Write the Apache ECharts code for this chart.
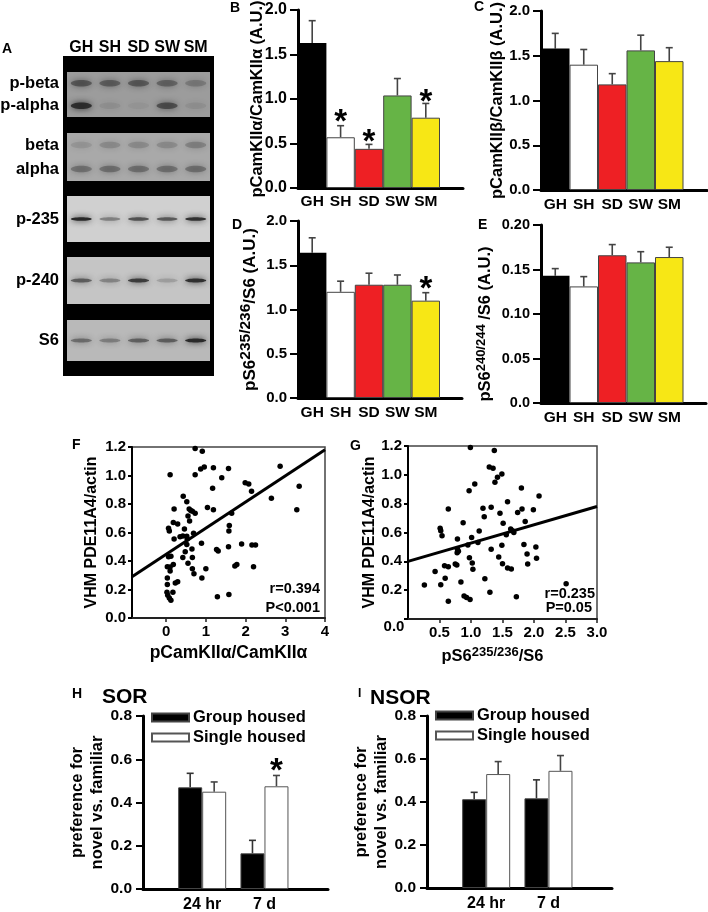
<!DOCTYPE html>
<html><head><meta charset="utf-8">
<style>html,body{margin:0;padding:0;background:#fff}#c{width:708px;height:912px}</style>
<script src="https://cdn.jsdelivr.net/npm/echarts@6/dist/echarts.min.js"></script>
</head><body><div id="c"></div>
<script>
// ---- data ----
const groups = ['GH','SH','SD','SW','SM'];
const groupColors = ['#000000','#ffffff','#ee2024','#66b446','#f7e715'];
const bMeans = [1.63,0.57,0.44,1.04,0.79];
const bTops  = [1.88,0.70,0.49,1.23,0.95];
const bStars = [[1.5,0.80],[2.5,0.58],[4.5,1.03]];
const cMeans = [1.58,1.40,1.18,1.56,1.44];
const cTops  = [1.75,1.57,1.30,1.73,1.59];
const dMeans = [1.64,1.20,1.28,1.28,1.10];
const dTops  = [1.81,1.32,1.41,1.39,1.19];
const dStars = [[4.5,1.295]];
const eMeans = [0.143,0.131,0.166,0.158,0.164];
const eTops  = [0.151,0.142,0.178,0.170,0.175];
const fPoints = [[.73,1.19],[.91,1.17],[.10,1.005],[.73,1.005],[.87,1.045],[.96,1.06],[1.19,1.055],[1.57,1.05],[1.40,.985],[1.17,.91],[1.99,.95],[2.08,.94],[2.15,.89],[2.87,1.065],[3.35,.925],[2.65,.84],[3.29,.76],[.43,.855],[.52,.815],[.2,.765],[.58,.765],[.62,.755],[.66,.75],[.73,.735],[1.04,.775],[1.19,.76],[1.65,.735],[.55,.715],[.59,.68],[.18,.67],[.29,.66],[1.59,.65],[1.58,.61],[.06,.63],[.08,.61],[.46,.625],[.2,.555],[.35,.57],[.42,.575],[.52,.573],[.53,.555],[.69,.595],[.52,.515],[.89,.525],[.65,.485],[.48,.465],[1.27,.48],[1.31,.47],[1.57,.5],[1.9,.52],[2.16,.512],[2.25,.512],[.42,.425],[.66,.425],[.06,.43],[.12,.433],[.55,.385],[.66,.345],[.70,.31],[1.0,.345],[.9,.28],[1.78,.375],[1.73,.365],[2.2,.36],[.03,.36],[.1,.358],[.18,.375],[.1,.33],[.03,.28],[.03,.235],[.23,.245],[.29,.255],[.17,.18],[.02,.18],[.04,.16],[.08,.14],[.12,.125],[1.29,.15],[1.58,.165]];
const fLine = [[-0.86,0.29],[4,1.18]];
const gPoints = [[.99,1.19],[1.37,1.168],[1.29,1.055],[1.35,1.045],[1.49,1.005],[1.42,.983],[1.38,.948],[1.06,.936],[.97,.89],[1.80,.909],[2.08,.853],[1.58,.814],[.64,.763],[1.19,.768],[1.32,.775],[1.81,.763],[1.99,.758],[1.46,.733],[1.74,.738],[1.21,.71],[1.86,.677],[.875,.668],[1.51,.664],[1.63,.624],[1.66,.613],[.51,.629],[.52,.613],[1.13,.61],[1.68,.6],[1.56,.585],[.54,.578],[1.01,.566],[.785,.555],[1.11,.53],[.95,.513],[1.49,.511],[1.84,.516],[2.03,.5],[1.32,.483],[.785,.483],[.80,.47],[.78,.46],[1.89,.451],[.975,.425],[1.44,.43],[2.04,.421],[1.02,.388],[1.5,.384],[1.90,.381],[.75,.381],[.775,.375],[.58,.37],[.64,.363],[1.58,.354],[1.64,.347],[1.03,.345],[.43,.33],[.59,.282],[1.22,.28],[.84,.257],[.52,.238],[.26,.236],[2.51,.245],[1.30,.185],[.89,.16],[.93,.15],[.985,.136],[.64,.123],[1.72,.155]];
const gLine = [[0,0.40],[3,0.78]];
const timeLabels = ['24 hr','7 d'];
const housing = ['Group housed','Single housed'];
const hGroup = [0.47,0.165];
const hGroupTops = [0.535,0.225];
const hSingle = [0.45,0.475];
const hSingleTops = [0.495,0.525];
const hStars = [[2.19,0.574]];
const iGroup = [0.413,0.417];
const iGroupTops = [0.445,0.503];
const iSingle = [0.53,0.545];
const iSingleTops = [0.588,0.616];
// blot band darkness per lane
const pBeta  = [.48,.42,.46,.38,.22];
const pAlpha = [.85,.08,.04,.55,.08];
const beta   = [.10,.16,.16,.16,.22];
const alpha  = [.32,.34,.34,.34,.34];
const p235   = [.95,.38,.65,.60,.88];
const p240   = [.55,.32,.78,.18,.88];
const s6     = [.42,.32,.50,.52,.92];

// ---- helpers ----
const FF = '"Liberation Sans", Arial, sans-serif';
const grid=[],xAxis=[],yAxis=[],series=[];
function errRender(offsetPx,color){
  return function(p,api){
    const x=api.coord([api.value(0),api.value(1)]);
    const t=api.coord([api.value(0),api.value(2)]);
    const cx=x[0]+offsetPx;
    const st={stroke:color,lineWidth:1.6};
    return {type:'group',children:[
      {type:'line',shape:{x1:cx,y1:x[1],x2:cx,y2:t[1]},style:st},
      {type:'line',shape:{x1:cx-3.5,y1:t[1],x2:cx+3.5,y2:t[1]},style:st}
    ]};
  };
}
function addErr(gi,xs,means,tops,offset,color){
  series.push({type:'custom',xAxisIndex:gi,yAxisIndex:gi,silent:true,z:1,
    renderItem:errRender(offset,color||'#444'),
    data:xs.map((x,i)=>[x,means[i],tops[i]]),encode:{x:0,y:[1,2]}});
}
function addStars(gi,stars,size){
  series.push({type:'scatter',xAxisIndex:gi,yAxisIndex:gi,symbolSize:1,silent:true,z:6,
    itemStyle:{color:'transparent',opacity:1},data:stars,
    label:{show:true,position:'inside',formatter:'*',color:'#000',opacity:1,fontFamily:FF,fontWeight:'bold',fontSize:size,offset:[0,size*0.2]}});
}
function valueY(o){
  return {type:'value',gridIndex:grid.length-1,min:0,max:o.max,interval:o.interval,
    name:o.name,nameLocation:'middle',nameGap:o.nameGap,nameRotate:90,nameMoveOverlap:false,
    nameTextStyle:Object.assign({color:'#000',fontFamily:FF,fontWeight:'bold',fontSize:o.nameFs||16.5},o.nameStyle||{}),
    axisLine:{show:true,onZero:false,lineStyle:{color:'#000',width:o.lineW||3}},
    axisTick:{show:true,length:o.tick||8,lineStyle:{color:'#000',width:2}},
    splitLine:{show:false},
    axisLabel:{color:'#000',fontFamily:FF,fontWeight:'bold',fontSize:o.fs||16,margin:o.margin||11,
      showMinLabel:true,showMaxLabel:true,
      formatter:o.fmt||(v=>v.toFixed(1))}};
}
function barPanel(o){
  const gi=grid.length;
  grid.push({left:o.l,top:o.t,width:o.w,height:o.h,outerBoundsMode:'none'});
  const xs=groups.map((_,i)=>i+0.5);
  xAxis.push({type:'value',gridIndex:gi,min:0,max:o.w/o.bar,
    axisLine:{show:true,onZero:false,lineStyle:{color:'#000',width:3}},
    axisTick:{show:false},splitLine:{show:false},
    axisLabel:{color:'#000',fontFamily:FF,fontWeight:'bold',fontSize:15.5,margin:o.lm,customValues:xs,
      formatter:v=>groups[Math.round(v-0.5)]||''}});
  yAxis.push(valueY(o));
  addErr(gi,xs,o.means,o.tops,0);
  series.push({type:'bar',xAxisIndex:gi,yAxisIndex:gi,barWidth:o.bar,silent:true,z:2,
    data:o.means.map((v,i)=>({value:[xs[i],v],itemStyle:{color:groupColors[i],borderColor:i?'#444':'#000',borderWidth:i?1:0}}))});
  if(o.stars) addStars(gi,o.stars,33);
}
function scatterPanel(o){
  const gi=grid.length;
  grid.push({left:o.l,top:o.t,width:o.w,height:o.h,outerBoundsMode:'none',show:true,borderColor:'#444',borderWidth:1.5,backgroundColor:'transparent'});
  xAxis.push({type:'value',gridIndex:gi,min:o.xmin,max:o.xmax,
    name:o.xname,nameLocation:'middle',nameGap:o.xgap,nameMoveOverlap:false,
    nameTextStyle:Object.assign({color:'#000',fontFamily:FF,fontWeight:'bold',fontSize:17.5},o.xstyle||{}),
    axisLine:{show:true,onZero:false,lineStyle:{color:'#222',width:2}},
    axisTick:{show:true,length:4,customValues:o.xticks,lineStyle:{color:'#222',width:1.5}},
    splitLine:{show:false},
    axisLabel:{color:'#000',fontFamily:FF,fontWeight:'bold',fontSize:15,margin:6,customValues:o.xticks,formatter:o.xfmt}});
  yAxis.push(valueY({max:1.2,interval:0.2,name:'VHM PDE11A4/actin',nameFs:16,nameGap:o.ygap,lineW:2,tick:4,fs:15,margin:6,fmt:o.yfmt}));
  series.push({type:'scatter',xAxisIndex:gi,yAxisIndex:gi,symbolSize:5.5,silent:true,itemStyle:{color:'#000',opacity:1},data:o.pts,z:3});
  series.push({type:'line',xAxisIndex:gi,yAxisIndex:gi,showSymbol:false,silent:true,lineStyle:{color:'#000',width:3},data:o.line,z:4});
}
function prefPanel(o){
  const gi=grid.length;
  grid.push({left:o.l,top:o.t,width:o.w,height:o.h,outerBoundsMode:'none'});
  const xs=[1,2];
  xAxis.push({type:'value',gridIndex:gi,min:o.xmin,max:o.xmax,
    axisLine:{show:true,onZero:false,lineStyle:{color:'#000',width:3}},axisTick:{show:false},splitLine:{show:false},
    axisLabel:{color:'#000',fontFamily:FF,fontWeight:'bold',fontSize:16,margin:8,customValues:xs,formatter:v=>timeLabels[v-1]||''}});
  yAxis.push(valueY({max:0.8,interval:0.2,name:'preference for\nnovel vs. familiar',nameGap:36,nameFs:16.5,
    nameStyle:{lineHeight:20},fs:15.5,margin:11,tick:7}));
  addErr(gi,xs,o.g,o.gt,-12,'#333');
  addErr(gi,xs,o.s,o.st,12,'#444');
  series.push({type:'bar',name:housing[0],xAxisIndex:gi,yAxisIndex:gi,barWidth:24,barGap:0,silent:true,z:2,
    itemStyle:{color:'#000',borderColor:'#444',borderWidth:1},data:xs.map((x,i)=>[x,o.g[i]])});
  series.push({type:'bar',name:housing[1],xAxisIndex:gi,yAxisIndex:gi,barWidth:24,barGap:0,silent:true,z:2,
    itemStyle:{color:'#fff',borderColor:'#555',borderWidth:1},data:xs.map((x,i)=>[x,o.s[i]])});
  if(o.stars) addStars(gi,o.stars,33);
}
function blotStrip(o){
  const gi=grid.length;
  grid.push({left:67,top:o.t,width:143,height:o.h,outerBoundsMode:'none',show:true,backgroundColor:o.bg,borderWidth:0});
  xAxis.push({type:'category',gridIndex:gi,data:groups,position:'top',axisLine:{show:false},axisTick:{show:false},
    axisLabel:o.top?{show:true,color:'#000',fontFamily:FF,fontWeight:'bold',fontSize:16,margin:16,interval:0}:{show:false}});
  yAxis.push({type:'category',gridIndex:gi,inverse:true,data:o.rows.map(r=>r.label),axisLine:{show:false},axisTick:{show:false},
    axisLabel:{show:true,color:'#000',fontFamily:FF,fontWeight:'bold',fontSize:16.5,margin:8,interval:0}});
  const data=[];
  o.rows.forEach((r,j)=>r.vals.forEach((v,i)=>data.push([i,j,v])));
  series.push({type:'custom',xAxisIndex:gi,yAxisIndex:gi,silent:true,clip:true,z:3,data,encode:{x:0,y:1},
    renderItem(p,api){
      const c=api.coord([api.value(0),api.value(1)]);
      return {type:'ellipse',shape:{cx:c[0],cy:c[1],rx:10.5,ry:o.ry||3.2},
        style:{fill:'#222',opacity:api.value(2),shadowBlur:6,shadowColor:'#222'}};
    }});
}

// ---- panel A ----
blotStrip({t:72,h:45,bg:'#9c9c9c',top:true,rows:[{label:'p-beta',vals:pBeta},{label:'p-alpha',vals:pAlpha}]});
blotStrip({t:133,h:48,bg:'#a9a9a9',rows:[{label:'beta',vals:beta},{label:'alpha',vals:alpha}]});
blotStrip({t:196,h:46,bg:'#d0d0d0',ry:1.8,rows:[{label:'p-235',vals:p235}]});
blotStrip({t:257,h:47,bg:'#c5c5c5',ry:2,rows:[{label:'p-240',vals:p240}]});
blotStrip({t:320,h:41,bg:'#b9b9b9',ry:2,rows:[{label:'S6',vals:s6}]});

// ---- panels B-E ----
const supBase={fontFamily:FF,fontWeight:'bold',color:'#000'};
barPanel({l:298,t:10,w:165,h:178,bar:28.4,lm:6,max:2,interval:0.5,means:bMeans,tops:bTops,stars:bStars,
  name:'pCamKIIα/CamKIIα (A.U.)',nameGap:32});
barPanel({l:541,t:11,w:166,h:179,bar:28.5,lm:7,fs:15,max:2,interval:0.5,means:cMeans,tops:cTops,
  name:'pCamKIIβ/CamKIIβ (A.U.)',nameGap:35});
barPanel({l:298,t:221,w:164,h:177,bar:28.4,lm:7,fs:15,max:2,interval:0.5,means:dMeans,tops:dTops,stars:dStars,
  name:'{b|pS6}{s|235/236}{b|/S6 (A.U.)}',nameGap:36,
  nameStyle:{rich:{b:Object.assign({fontSize:17},supBase),s:Object.assign({fontSize:15.5,padding:[0,0,8,0]},supBase)}}});
barPanel({l:541,t:225,w:165,h:178,bar:28.5,lm:7,fs:14.5,max:0.2,interval:0.05,means:eMeans,tops:eTops,
  fmt:v=>v===0?'0.0':v.toFixed(2),
  name:'{b|pS6}{s|240/244}{b| /S6 (A.U.)}',nameGap:45,
  nameStyle:{padding:[0,20,0,0],rich:{b:Object.assign({fontSize:16.5},supBase),s:Object.assign({fontSize:13,padding:[0,0,8,0]},supBase)}}});

// ---- panels F, G ----
scatterPanel({l:132,t:447,w:193,h:171,xmin:-0.86,xmax:4,xticks:[0,1,2,3,4],xfmt:v=>String(v),pts:fPoints,line:fLine,
  xname:'pCamKIIα/CamKIIα',xgap:26,ygap:32,yfmt:v=>v.toFixed(1)});
scatterPanel({l:408,t:446,w:189,h:173,xmin:0,xmax:3,xticks:[0.5,1,1.5,2,2.5,3],xfmt:v=>v.toFixed(1),pts:gPoints,line:gLine,
  xname:'{b|pS6}{s|235/236}{b|/S6}',xgap:27,ygap:30,yfmt:v=>v===0?'':v.toFixed(1),
  xstyle:{padding:[0,20,0,0],rich:{b:Object.assign({fontSize:16.5},supBase),s:Object.assign({fontSize:13,padding:[0,0,8,0]},supBase)}}});

// ---- panels H, I ----
prefPanel({l:143,t:716,w:185,h:173,xmin:0.05,xmax:3.02,g:hGroup,gt:hGroupTops,s:hSingle,st:hSingleTops,stars:hStars});
prefPanel({l:427,t:716,w:185,h:172,xmin:0.05,xmax:3.02,g:iGroup,gt:iGroupTops,s:iSingle,st:iSingleTops});

const legendBase={orient:'vertical',itemWidth:37,itemHeight:8,itemGap:3,selectedMode:false,data:housing,icon:'rect',
  textStyle:{color:'#000',fontFamily:FF,fontWeight:'bold',fontSize:16.5,padding:[0,0,0,-1]},padding:0};

function txt(text,x,y,font,align){
  return {type:'text',x,y,silent:true,style:{text,font:'bold '+font+'px '+FF,fill:'#000',textAlign:align||'left',textVerticalAlign:'middle'}};
}
const graphics=[
  {type:'rect',z:-10,silent:true,shape:{x:63,y:56,width:151,height:320},style:{fill:'#000'}},
  txt('A',2,49,14), txt('B',230,8,14), txt('C',474,7,14), txt('D',232,225,14), txt('E',478,225,14),
  txt('F',72,445,14), txt('G',350,446,14), txt('H',72,694,14), txt('I',358,694,12),
  txt('SOR',102,697,21), txt('NSOR',370,698,21),
  txt('r=0.394',320,589,14.5,'right'), txt('P<0.001',320,608,14.5,'right'),
  txt('r=0.235',595,594,14.5,'right'), txt('P=0.05',592,608,14.5,'right'),
  txt('0.0',394,627,15,'center')
];

const chart=echarts.init(document.getElementById('c'),null,{renderer:'canvas'});
chart.setOption({
  animation:false,backgroundColor:'#fff',
  grid,xAxis,yAxis,series,graphic:graphics,
  legend:[Object.assign({left:151,top:709},legendBase),Object.assign({left:435,top:707},legendBase)]
});
</script></body></html>
